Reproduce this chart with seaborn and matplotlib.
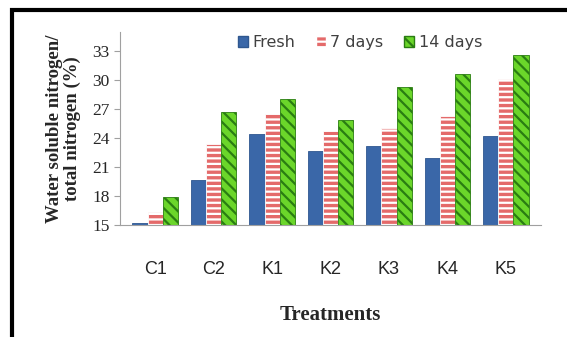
import pandas as pd
import matplotlib.pyplot as plt
import seaborn as sns
from matplotlib.patches import Rectangle

# values
treatments = ['C1', 'C2', 'K1', 'K2', 'K3', 'K4', 'K5']
fresh = [15.2, 19.7, 24.4, 22.7, 23.2, 22.0, 24.2]
days7 = [16.4, 23.4, 26.5, 24.7, 25.1, 26.3, 30.1]
days14 = [17.9, 26.7, 28.1, 25.9, 29.3, 30.6, 32.6]
series = ['Fresh', '7 days', '14 days']

df = pd.DataFrame({'Treatment': treatments * 3,
                   'Period': [s for s in series for _ in treatments],
                   'Value': fresh + days7 + days14})

sns.set_style('white')
plt.rcParams['hatch.linewidth'] = 1.6

fig = plt.figure(figsize=(5.67, 3.37), dpi=100)
ax = fig.add_axes([0.212, 0.332, 0.742, 0.573])

palette = {'Fresh': '#3A67A8', '7 days': '#E46A6A', '14 days': '#6BD62A'}
sns.barplot(data=df, x='Treatment', y='Value', hue='Period', palette=palette,
            width=0.78, ax=ax, saturation=1, legend=True)

hatch_style = {'Fresh': (None, '#2F578F'), '7 days': ('---', 'white'), '14 days': ('\\\\\\', '#2A7D12')}
for cont, name in zip(ax.containers, series):
    h, ec = hatch_style[name]
    for bar in cont:
        bar.set_edgecolor(ec)
        bar.set_linewidth(0.6)
        if h:
            bar.set_hatch(h)

ax.set_ylim(15, 35)
ax.set_yticks(range(15, 34, 3))
ax.set_xlim(-0.6, 6.6)

for s in ['top', 'right']:
    ax.spines[s].set_visible(False)
ax.spines['left'].set_color('#A0A0A0')
ax.spines['bottom'].set_color('#A0A0A0')
ax.tick_params(axis='y', left=True, length=4, color='#A0A0A0', labelsize=12.5)
ax.tick_params(axis='x', bottom=False, pad=22, labelsize=13)
for t in ax.get_yticklabels():
    t.set_family('Liberation Serif')
for t in ax.get_xticklabels():
    t.set_family('Liberation Sans')

ax.set_xlabel('Treatments', fontsize=15, fontweight='bold', family='Liberation Serif', labelpad=20)
ax.set_ylabel('Water soluble nitrogen/\ntotal nitrogen (%)', fontsize=13.5,
              fontweight='bold', family='Liberation Serif', labelpad=8, linespacing=1.1)

leg = ax.legend(loc='upper center', bbox_to_anchor=(0.57, 1.06), ncol=3, frameon=False,
                fontsize=11.5, handlelength=0.6, handleheight=0.7, columnspacing=1.3, handletextpad=0.3)
for t in leg.get_texts():
    t.set_color('#404040')
for hnd, name in zip(leg.legend_handles, series):
    h, ec = hatch_style[name]
    hnd.set_edgecolor(ec)
    if h:
        hnd.set_hatch(h)

# frame around the picture
fig.patches.append(Rectangle((0.022, -0.05), 1.1, 1.02, transform=fig.transFigure,
                             fill=False, edgecolor='black', linewidth=3))

fig.savefig('out.png', dpi=100)
